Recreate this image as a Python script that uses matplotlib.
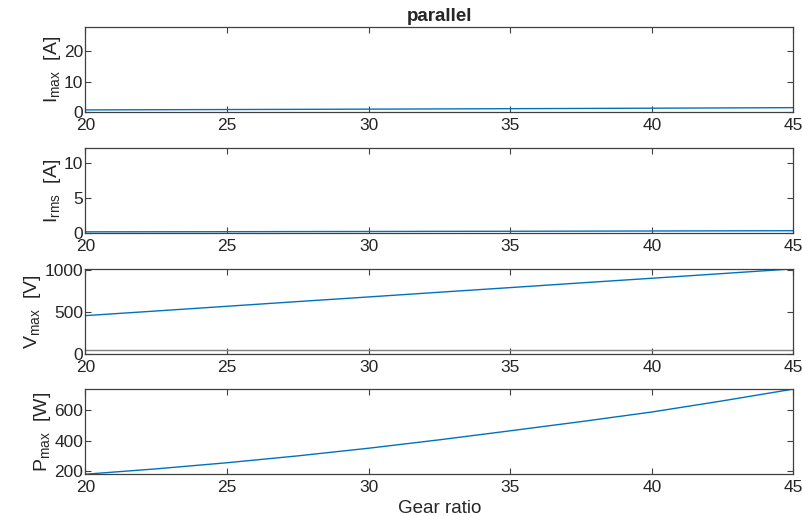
import matplotlib

matplotlib.use("Agg")
import matplotlib.pyplot as plt

plt.rcParams["font.family"] = ["Liberation Sans", "DejaVu Sans"]
plt.rcParams["mathtext.fontset"] = "custom"
plt.rcParams["mathtext.rm"] = "Liberation Sans"
plt.rcParams["mathtext.it"] = "Liberation Sans"

# gear ratio sweep and the resulting motor quantities
gear_ratio = [20, 22.5, 25, 27.5, 30, 32.5, 35, 37.5, 40, 42.5, 45]
i_max = [0.68, 0.74, 0.80, 0.86, 0.93, 1.00, 1.08, 1.16, 1.25, 1.33, 1.42]
i_rms = [0.20, 0.21, 0.22, 0.24, 0.25, 0.27, 0.28, 0.30, 0.32, 0.34, 0.36]
v_max = [456, 511, 567, 623, 678, 734, 789, 845, 900, 956, 1012]
p_max = [180, 215, 255, 300, 350, 405, 464, 524, 587, 660, 737]
v_limit = 48

series = [
    (i_max, r"I$_{\mathrm{max}}$  [A]", (0, 28), [0, 10, 20]),
    (i_rms, r"I$_{\mathrm{rms}}$  [A]", (0, 12.2), [0, 5, 10]),
    (v_max, r"V$_{\mathrm{max}}$  [V]", (0, max(v_max)), [0, 500, 1000]),
    (p_max, r"P$_{\mathrm{max}}$  [W]", (min(p_max), max(p_max)), [200, 400, 600]),
]

line_color = "#0072BD"
axis_color = "#404040"
text_color = "#262626"

fig = plt.figure(figsize=(8.02, 5.16), dpi=100, facecolor="white")
bottoms = [0.783, 0.548, 0.314, 0.081]
axes = []
for (values, label, ylim, yticks), bottom in zip(series, bottoms):
    ax = fig.add_axes([0.1066, bottom, 0.8828, 0.165])
    ax.plot(gear_ratio, values, color=line_color, linewidth=1.0)
    ax.set_xlim(20, 45)
    ax.set_ylim(*ylim)
    ax.set_xticks([20, 25, 30, 35, 40, 45])
    ax.set_yticks(yticks)
    ax.set_ylabel(label, fontsize=14, color=text_color, labelpad=1)
    ax.tick_params(direction="in", top=True, right=True, length=4,
                   width=0.8, colors=axis_color, labelcolor=text_color,
                   labelsize=12.5, pad=1.5)
    ax.tick_params(axis="x", pad=4.5)
    for spine in ax.spines.values():
        spine.set_color(axis_color)
        spine.set_linewidth(0.9)
    axes.append(ax)

# supply voltage limit
axes[2].axhline(v_limit, color="#808080", linewidth=1.0)

axes[0].set_title("parallel", fontsize=13.5, fontweight="bold",
                  color=text_color, pad=4)
axes[3].set_xlabel("Gear ratio", fontsize=13.5, color=text_color, labelpad=3)

fig.savefig("out.png", dpi=100, facecolor="white")
